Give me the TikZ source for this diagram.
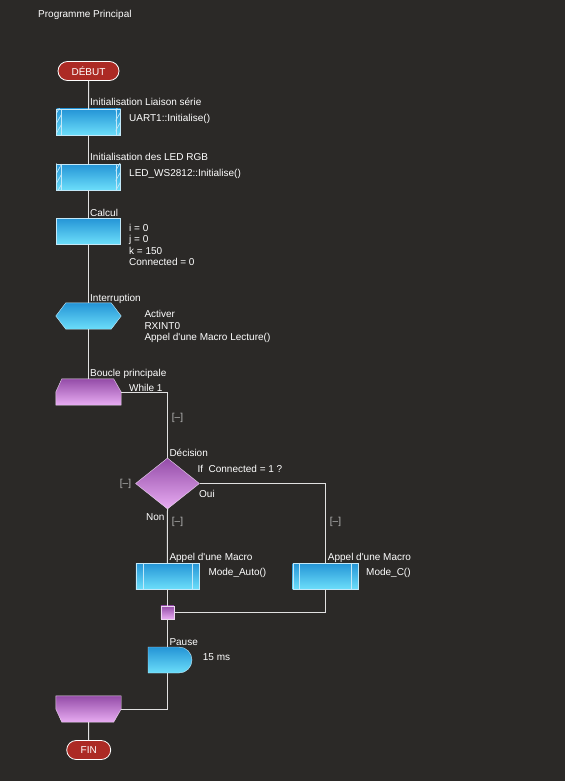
\documentclass[tikz,border=0pt]{standalone}
\usepackage{fontspec}
\setmainfont{Liberation Sans}
\usetikzlibrary{shapes.geometric}
\usetikzlibrary{shapes.misc}
\usetikzlibrary{patterns.meta}

\definecolor{fond}{RGB}{43,41,39}
\definecolor{bleuhaut}{RGB}{36,148,214}
\definecolor{bleubas}{RGB}{108,222,250}
\definecolor{bleubord}{RGB}{195,232,248}
\definecolor{violethaut}{RGB}{148,76,168}
\definecolor{violetbas}{RGB}{232,172,242}
\definecolor{violetbord}{RGB}{236,216,240}
\definecolor{rouge}{RGB}{172,42,36}
\definecolor{gristexte}{RGB}{185,185,185}
\definecolor{trait}{RGB}{225,225,225}

\begin{document}
\begin{tikzpicture}[x=1pt, y=-1pt,
    every node/.style={font=\fontsize{10}{11.5}\selectfont, text=white},
    terminal/.style={rounded rectangle, draw=white, fill=rouge, line width=0.8pt, minimum height=19pt, inner sep=0pt},
    bloc/.style={rectangle, draw=bleubord, top color=bleuhaut, bottom color=bleubas, minimum width=64pt, minimum height=26pt, inner sep=0pt},
    cadre/.style={rectangle, minimum width=65pt, minimum height=26pt, inner sep=0pt},
    fondbleu/.style={draw=bleubord, top color=bleuhaut, bottom color=bleubas},
    fondviolet/.style={draw=violetbord, top color=violethaut, bottom color=violetbas},
    choix/.style={diamond, fondviolet, minimum width=64pt, minimum height=51pt, inner sep=0pt},
    jonction/.style={rectangle, fondviolet, minimum size=13pt, inner sep=0pt},
    attente/.style={rounded rectangle, rounded rectangle left arc=none, fondbleu, minimum width=44pt, minimum height=26pt, inner sep=0pt},
    etiquette/.style={anchor=base west, inner sep=0pt},
    detail/.style={anchor=north west, inner sep=0pt, align=left},
    repli/.style={text=gristexte, inner sep=0pt},
    lien/.style={draw=trait, line width=1pt}
  ]

    \fill[fond] (0,0) rectangle (565,781);
    \useasboundingbox (0,0) rectangle (565,781);

    \node[etiquette] (titre) at (38,18) {Programme Principal};

    % blocs du programme
    \node[terminal, minimum width=61pt] (debut) at (88.5,71) {DÉBUT};
    \node[bloc] (ini1) at (88.5,122) {};
    \node[bloc] (ini2) at (88.5,177) {};
    \node[bloc] (calc) at (88.5,231) {};
    \node[cadre] (inter) at (88.5,316) {};
    \node[cadre] (boucle) at (88.5,392) {};
    \node[choix] (dec) at (167.5,483.5) {};
    \node[bloc, minimum width=63pt] (appA) at (167.4,576) {};
    \node[bloc, minimum width=65pt] (appC) at (325.2,576) {};
    \node[jonction] (junc) at (167.4,612.4) {};
    \node[attente] (pause) at (170,660) {};
    \node[cadre] (finboucle) at (88.5,709) {};
    \node[terminal, minimum width=44pt] (fin) at (88.7,750) {FIN};

    % formes a pans coupes
    \shade[fondbleu] ([xshift=10pt]inter.north west) -- ([xshift=-10pt]inter.north east) -- (inter.east)
        -- ([xshift=-10pt]inter.south east) -- ([xshift=10pt]inter.south west) -- (inter.west) -- cycle;
    \shade[fondviolet] ([xshift=6pt]boucle.north west) -- ([xshift=-7.5pt]boucle.north east) -- (boucle.east)
        -- (boucle.south east) -- (boucle.south west) -- (boucle.west) -- cycle;
    \shade[fondviolet] (finboucle.north west) -- (finboucle.north east) -- (finboucle.east)
        -- ([xshift=-7.5pt]finboucle.south east) -- ([xshift=6pt]finboucle.south west) -- (finboucle.west) -- cycle;

    % bandes des macros de composant
    \foreach \n in {ini1,ini2} {
        \fill[pattern={Lines[angle=60, distance=5pt, line width=0.7pt]}, pattern color=bleubord] (\n.north west) rectangle ([xshift=5pt]\n.south west);
        \fill[pattern={Lines[angle=60, distance=5pt, line width=0.7pt]}, pattern color=bleubord] ([xshift=-5pt]\n.north east) rectangle (\n.south east);
        \draw[bleubord] ([xshift=5pt]\n.north west) -- ([xshift=5pt]\n.south west);
        \draw[bleubord] ([xshift=-5pt]\n.north east) -- ([xshift=-5pt]\n.south east);
    }
    \foreach \n in {appA,appC} {
        \draw[bleubord] ([xshift=7pt]\n.north west) -- ([xshift=7pt]\n.south west);
        \draw[bleubord] ([xshift=-7pt]\n.north east) -- ([xshift=-7pt]\n.south east);
    }

    % liaisons
    \draw[lien] (debut) -- (ini1);
    \draw[lien] (ini1) -- (ini2);
    \draw[lien] (ini2) -- (calc);
    \draw[lien] (calc) -- (inter);
    \draw[lien] (inter) -- (boucle);
    \draw[lien] (boucle.east) -| (dec.north);
    \draw[lien] (dec.east) -| (appC.north);
    \draw[lien] (dec.south) -- (appA.north);
    \draw[lien] (appA.south) -- (junc.north);
    \draw[lien] (appC.south) |- (junc.east);
    \draw[lien] (junc.south) -- (junc |- pause.north);
    \draw[lien] (junc |- pause.south) |- (finboucle.east);
    \draw[lien] (finboucle) -- (fin);

    % textes
    \node[etiquette] (t1) at (90,106) {Initialisation Liaison série};
    \node[etiquette] (d1) at (129,121.5) {UART1::Initialise()};
    \node[etiquette] (t2) at (90,160.7) {Initialisation des LED RGB};
    \node[etiquette] (d2) at (129,176.5) {LED\_WS2812::Initialise()};
    \node[etiquette] (t3) at (90,216) {Calcul};
    \node[detail] (d3) at (129,224) {i = 0\\j = 0\\k = 150\\Connected = 0};
    \node[etiquette] (t4) at (90,301) {Interruption};
    \node[detail] (d4) at (144.3,310.5) {Activer\\RXINT0\\Appel d\textquotesingle une Macro Lecture()};
    \node[etiquette] (t5) at (90,376.7) {Boucle principale};
    \node[etiquette] (d5) at (129,391.7) {While 1};
    \node[repli] (r1) at (177.5,418) {[--]};
    \node[etiquette] (t6) at (169.3,456.7) {Décision};
    \node[etiquette] (d6) at (197.3,472.7) {If\ \ Connected = 1 ?};
    \node[repli] (r2) at (125.5,483.5) {[--]};
    \node[etiquette] (oui) at (199,497.3) {Oui};
    \node[etiquette] (non) at (146,520.7) {Non};
    \node[repli] (r3) at (177.5,521.7) {[--]};
    \node[repli] (r4) at (335.5,521.7) {[--]};
    \node[etiquette] (t7) at (169.3,560.7) {Appel d\textquotesingle une Macro};
    \node[etiquette] (d7) at (208.3,575.7) {Mode\_Auto()};
    \node[etiquette] (t8) at (327.7,560.5) {Appel d\textquotesingle une Macro};
    \node[etiquette] (d8) at (366,575.7) {Mode\_C()};
    \node[etiquette] (t9) at (169.3,645) {Pause};
    \node[etiquette] (d9) at (202.7,660) {15 ms};

\end{tikzpicture}
\end{document}
